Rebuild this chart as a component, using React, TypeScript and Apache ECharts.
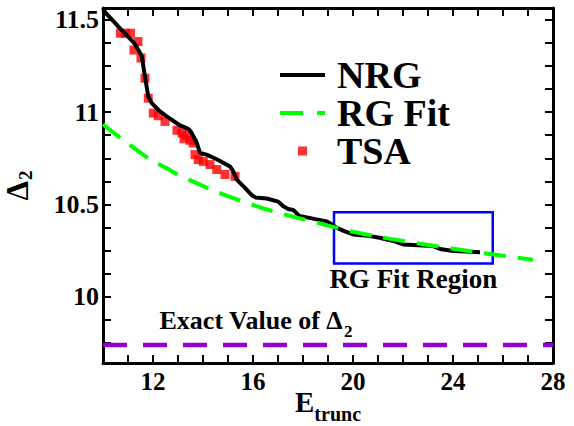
import React, { useEffect, useRef } from "react";
import * as echarts from "echarts";

// NRG curve
const nrgX = [10.0, 10.1, 10.68, 11.25, 11.55, 11.68, 11.81, 11.95, 12.28, 12.55, 13.08, 13.37, 13.45, 13.55, 13.75, 13.88, 14.14, 14.55, 15.08, 15.21, 15.35, 15.68, 15.95, 16.1, 16.55, 17.01, 17.21, 17.41, 17.61, 17.85, 18.5, 18.95, 19.15, 19.35, 19.7, 20.01, 20.68, 21.06, 21.35, 21.7, 22.01, 22.6, 23.21, 23.48, 24.01, 24.5, 25.08];
const nrgY = [11.56, 11.54, 11.455, 11.375, 11.305, 11.193, 11.085, 11.049, 11.004, 10.977, 10.928, 10.912, 10.905, 10.887, 10.833, 10.779, 10.77, 10.745, 10.706, 10.679, 10.634, 10.59, 10.55, 10.538, 10.532, 10.515, 10.49, 10.475, 10.47, 10.438, 10.42, 10.408, 10.392, 10.373, 10.352, 10.337, 10.328, 10.319, 10.31, 10.298, 10.283, 10.279, 10.274, 10.258, 10.247, 10.244, 10.241];

// RG fit curve
const fitX = [10, 10.5, 11, 11.5, 12, 12.5, 13, 13.5, 14, 14.5, 15, 15.5, 16, 16.5, 17, 17.5, 18, 19, 20, 21, 22, 23, 24, 25, 26, 27.2];
const fitY = [10.935, 10.88, 10.83, 10.78, 10.735, 10.7, 10.66, 10.63, 10.6, 10.57, 10.545, 10.52, 10.497, 10.475, 10.455, 10.437, 10.42, 10.385, 10.352, 10.325, 10.302, 10.28, 10.26, 10.24, 10.222, 10.2];

// TSA points
const tsaX = [10.7, 10.9, 11.1, 11.4, 11.24, 11.52, 11.68, 11.81, 12.01, 12.21, 12.48, 12.96, 13.16, 13.35, 13.24, 13.48, 13.61, 13.68, 13.81, 14.01, 14.28, 14.55, 14.88, 15.28];
const tsaY = [11.428, 11.428, 11.428, 11.383, 11.337, 11.294, 11.184, 11.076, 10.995, 10.981, 10.95, 10.902, 10.887, 10.875, 10.856, 10.848, 10.833, 10.77, 10.743, 10.733, 10.716, 10.689, 10.662, 10.652];

// Exact value line
const exactX = [10, 28];
const exactY = [9.737, 9.737];

// Axes
const xMin = 10;
const xMax = 28;
const yMin = 9.64;
const yMax = 11.565;
const xLabelValues = [12, 16, 20, 24, 28];
const yLabelValues = [10, 10.5, 11, 11.5];
const yTickValues = [9.75, 9.875, 10, 10.125, 10.25, 10.375, 10.5, 10.625, 10.75, 10.875, 11, 11.125, 11.25, 11.375, 11.5];

// Annotations
const fitRegionX = [19.24, 25.59];
const fitRegionY = [10.18, 10.457];
const exactLabelPos = [12.26, 9.872];

const FONT = "Liberation Serif";

const zip = (xs: number[], ys: number[]) => xs.map((x, i) => [x, ys[i]]);

export default function App() {
  const ref = useRef<HTMLDivElement>(null);
  useEffect(() => {
    if (!ref.current) return;
    const chart = echarts.init(ref.current, undefined, { renderer: "svg" });
    const axisLine = { show: true, onZero: false, lineStyle: { color: "#000", width: 3 } };
    const tick = { show: true, inside: true, length: 8, lineStyle: { color: "#000", width: 2 } };
    chart.setOption({
      animation: false,
      backgroundColor: "#fff",
      textStyle: { fontFamily: FONT },
      grid: { left: 103, right: 21, top: 8, bottom: 63, containLabel: false, outerBoundsMode: "none" },
      legend: {
        orient: "vertical",
        left: 280,
        top: 56,
        padding: 0,
        itemGap: 0,
        itemWidth: 45,
        itemHeight: 14,
        selectedMode: false,
        textStyle: { fontFamily: FONT, fontWeight: "bold", fontSize: 38, color: "#000", lineHeight: 33, padding: [0, 0, 0, 7] },
        data: [
          { name: "NRG", icon: "path://M0,0M45,14M0,5h45v4h-45z" },
          { name: "RG Fit", icon: "path://M0,0M45,14M0,5h23v4h-23zM37,5h8v4h-8z" },
          { name: "TSA", icon: "path://M0,0M45,14M18,2.5h9v9h-9z" },
        ],
      },
      xAxis: [
        {
          type: "value", min: xMin, max: xMax, interval: 1, position: "bottom",
          axisLine, axisTick: tick, splitLine: { show: false },
          axisLabel: {
            show: true, margin: 6, fontFamily: FONT, fontWeight: "bold", fontSize: 25, color: "#000",
            formatter: (v: number) => (xLabelValues.includes(v) ? String(v) : ""),
          },
          name: "{e|E}{s|trunc}", nameLocation: "middle", nameGap: 24, nameMoveOverlap: false,
          nameTextStyle: {
            rich: {
              e: { fontFamily: FONT, fontWeight: "bold", fontSize: 29, color: "#000" },
              s: { fontFamily: FONT, fontWeight: "bold", fontSize: 20, lineHeight: 14, color: "#000", padding: [24, 0, 0, 0] },
            },
          },
        },
        {
          type: "value", min: xMin, max: xMax, interval: 1, position: "top",
          axisLine, axisTick: tick, splitLine: { show: false }, axisLabel: { show: false },
        },
      ],
      yAxis: [
        {
          type: "value", min: yMin, max: yMax, position: "left",
          axisLine, axisTick: { ...tick, customValues: yTickValues }, splitLine: { show: false },
          axisLabel: {
            show: true, margin: 4, customValues: yLabelValues, fontFamily: FONT, fontWeight: "bold", fontSize: 26, color: "#000",
            formatter: (v: number) => String(v),
          },
          name: "{d|Δ}{s|2}", nameLocation: "middle", nameGap: 68, nameRotate: 90,
          nameTextStyle: {
            rich: {
              d: { fontFamily: FONT, fontWeight: "bold", fontSize: 31, color: "#000" },
              s: { fontFamily: FONT, fontWeight: "bold", fontSize: 19, color: "#000", padding: [16, 0, 0, 1] },
            },
          },
        },
        {
          type: "value", min: yMin, max: yMax, position: "right",
          axisLine, axisTick: { ...tick, customValues: yTickValues }, splitLine: { show: false }, axisLabel: { show: false },
        },
      ],
      series: [
        {
          name: "NRG", type: "line", xAxisIndex: 0, yAxisIndex: 0, symbol: "none",
          data: zip(nrgX, nrgY), color: "#000",
          lineStyle: { color: "#000", width: 4 },
          markArea: {
            silent: true,
            itemStyle: { color: "rgba(0,0,0,0)", borderColor: "#0000ff", borderWidth: 2.5 },
            label: {
              show: true, position: "bottom", distance: 1, formatter: "RG Fit Region",
              fontFamily: FONT, fontWeight: "bold", fontSize: 27, color: "#000",
            },
            data: [[{ coord: [fitRegionX[0], fitRegionY[1]] }, { coord: [fitRegionX[1], fitRegionY[0]] }]],
          },
        },
        {
          name: "RG Fit", type: "line", symbol: "none", smooth: 0.3,
          data: zip(fitX, fitY), color: "#00ff00",
          lineStyle: { color: "#00ff00", width: 4, type: [22, 12] },
        },
        {
          name: "TSA", type: "scatter", symbol: "rect", symbolSize: 9,
          data: zip(tsaX, tsaY), itemStyle: { color: "#ff0000" },
        },
        {
          name: "Exact", type: "line", symbol: "none",
          data: zip(exactX, exactY), color: "#9400d3",
          lineStyle: { color: "#9400d3", width: 4.5, type: [24, 16] },
          markPoint: {
            silent: true, symbol: "rect", symbolSize: 0,
            label: {
              show: true, position: "inside", align: "left", verticalAlign: "middle",
              formatter: "{a|Exact Value of Δ}{s|2}",
              rich: {
                a: { fontFamily: FONT, fontWeight: "bold", fontSize: 26, color: "#000" },
                s: { fontFamily: FONT, fontWeight: "bold", fontSize: 17, color: "#000", padding: [22, 0, 0, 1] },
              },
            },
            data: [{ coord: exactLabelPos }],
          },
        },
      ],
    });
    return () => chart.dispose();
  }, []);
  return <div ref={ref} style={{ position: "fixed", left: 0, top: 0, width: 574, height: 426 }} />;
}
